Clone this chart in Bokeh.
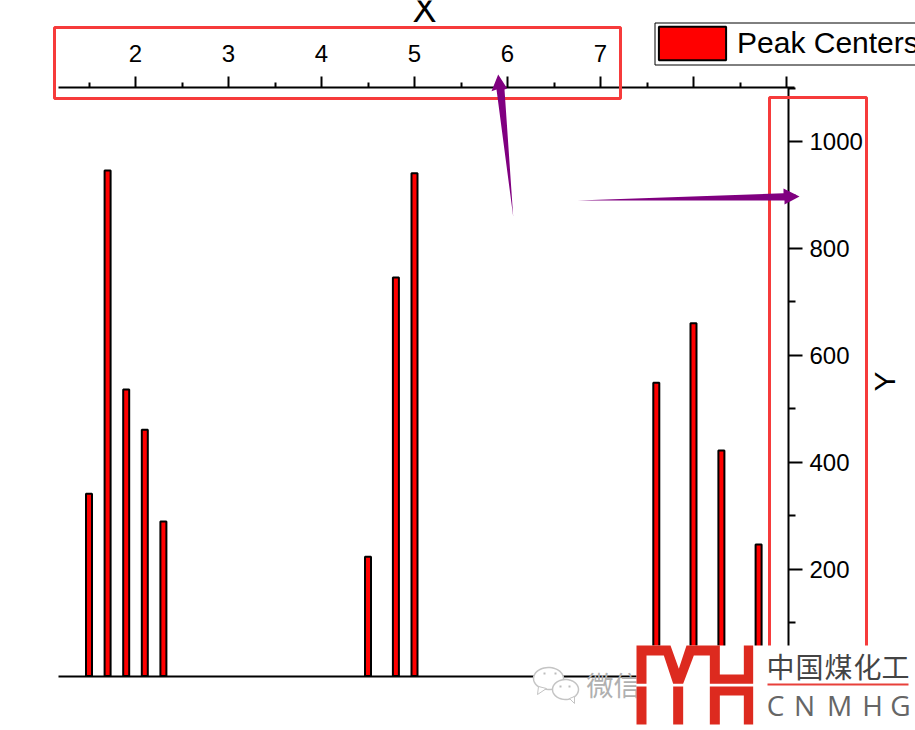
import numpy as np
from bokeh.plotting import figure
from bokeh.models import (LinearAxis, FixedTicker, Range1d, Legend, LegendItem, Label,
                          PolyAnnotation, BoxAnnotation)
from bokeh.embed import file_html
from bokeh.resources import INLINE

peak_x = [1.5, 1.7, 1.9, 2.1, 2.3, 4.5, 4.8, 5.0, 7.6, 8.0, 8.3, 8.7]
peak_y = [341, 946, 536, 461, 289, 223, 746, 941, 549, 660, 422, 246]
series_name = "Peak Centers"
x_ticks = [2, 3, 4, 5, 6, 7, 8, 9]
x_minor = [1.5, 2.5, 3.5, 4.5, 5.5, 6.5, 7.5, 8.5]
y_ticks = [0, 200, 400, 600, 800, 1000]
y_minor = [100, 300, 500, 700, 900, 1100]

FONT = "Liberation Sans"
W, H = 915, 730


def xd(px):
    return 2 + (px - 135) / 93


def yd(py):
    return (675.5 - py) / 0.5343


p = figure(width=W, height=H, output_backend="svg", toolbar_location=None,
           x_axis_location=None, y_axis_location=None,
           x_range=Range1d(xd(0), xd(W)), y_range=Range1d(yd(H), yd(0)),
           min_border=0, margin=(0, 0, 0, 0))
p.grid.visible = False
p.outline_line_color = None

bars = p.vbar(x=peak_x, top=peak_y, bottom=0, width=0.0645, fill_color="#ff0000",
              line_color="black", line_width=2)

top = LinearAxis(fixed_location=yd(87), bounds=(xd(58), xd(794)),
                 ticker=FixedTicker(ticks=x_ticks, minor_ticks=x_minor),
                 major_label_overrides={8: "", 9: ""},
                 major_label_text_font=FONT, major_label_text_font_size="24px", major_label_text_color="black",
                 major_label_standoff=15, axis_line_width=2, axis_line_color="black",
                 major_tick_line_width=2, minor_tick_line_width=2,
                 major_tick_out=11, major_tick_in=0, minor_tick_out=5, minor_tick_in=0)
p.add_layout(top, "above")

right = LinearAxis(fixed_location=xd(788), bounds=(0, yd(87)),
                   ticker=FixedTicker(ticks=y_ticks, minor_ticks=y_minor),
                   major_label_overrides={0: ""},
                   major_label_text_font=FONT, major_label_text_font_size="24px", major_label_text_color="black",
                   major_label_text_baseline="bottom",
                   major_label_standoff=7, axis_line_width=2, axis_line_color="black",
                   major_tick_line_width=2, minor_tick_line_width=2,
                   major_tick_out=14, major_tick_in=0, minor_tick_out=7, minor_tick_in=0)
p.add_layout(right, "right")

bottom = LinearAxis(fixed_location=0, bounds=(xd(58), xd(788)), major_tick_line_color=None,
                    minor_tick_line_color=None, major_label_text_font_size="0px",
                    axis_line_width=2, axis_line_color="black", ticker=FixedTicker(ticks=[]))
p.add_layout(bottom, "below")

legend = Legend(items=[LegendItem(label=series_name, renderers=[bars])],
                location=(650, H - 64), orientation="vertical", margin=0, padding=0,
                glyph_width=84, glyph_height=42, label_standoff=3,
                label_text_font=FONT, label_text_font_size="30px", label_text_color="black",
                border_line_color=None, background_fill_alpha=0,
                spacing=0, label_height=34)
p.add_layout(legend, "center")


def box(l, t, r, b, **kw):
    p.add_layout(BoxAnnotation(left=l, right=r, top=t, bottom=b,
                               left_units="canvas", right_units="canvas",
                               top_units="canvas", bottom_units="canvas", **kw))


def poly(pts, color, **kw):
    xs = [q[0] for q in pts]
    ys = [q[1] for q in pts]
    p.add_layout(PolyAnnotation(xs=xs, ys=ys, xs_units="canvas", ys_units="canvas", fill_color=color,
                                fill_alpha=kw.pop("fill_alpha", 1), line_color=kw.pop("line_color", None),
                                line_alpha=1, line_width=kw.pop("line_width", 1)))


def text(x, y, s, size, color, font=FONT, align="left", baseline="middle", angle=0):
    p.add_layout(Label(x=x, y=y, x_units="canvas", y_units="canvas", text=s, text_font=font,
                       text_font_size=f"{size}px", text_color=color, text_align=align,
                       text_baseline=baseline, angle=angle))


# legend frame
box(654.5, 22.5, 930, 64.5, fill_alpha=0, line_color="black", line_alpha=1, line_width=1)

# axis titles
text(424, 9, "X", 36, "black", align="center")
text(884, 381, "Y", 30, "black", align="center", angle=np.pi / 2)

# red call-out frames
box(54, 27, 620, 98, fill_alpha=0, line_color="#f63b3b", line_alpha=1, line_width=3)
box(769, 97, 866, 660, fill_alpha=0, line_color="#f63b3b", line_alpha=1, line_width=3)

# purple arrows
poly([(497.7, 74), (506.7, 88), (504, 89), (512.7, 216), (496, 89), (491, 90.7)], "#800080")
poly([(577, 200), (783, 192.7), (783, 188), (799, 196), (784, 204), (784, 200)], "#800080")


# WeChat mark
def bubble(cx, cy, rx, ry, tail):
    a = np.linspace(0, 2 * np.pi, 48)
    pts = [(cx + rx * np.cos(t), cy + ry * np.sin(t)) for t in a]
    poly(pts, "white", line_color="#c4c4c4", line_width=1.5)
    poly(tail, "white", line_color="#c4c4c4", line_width=1)


bubble(548, 678, 15, 11, [(538, 686), (537, 694), (546, 688)])
bubble(565, 689, 13, 10, [(569, 698), (574, 703), (574, 696)])
for ex, ey in [(544, 673), (555, 673), (560, 686), (569, 686)]:
    box(ex - 1, ey - 1, ex + 1, ey + 1, fill_color="#bdbdbd", fill_alpha=1, line_color=None)
text(586, 684, "微信", 27, "#b0b0b0", font="Noto Sans CJK SC")

# logo on its white backing
box(636, 645, 915, 730, fill_color="white", fill_alpha=1, line_color=None)


def z(q):
    return (630 + q[0] / 3, 640 + q[1] / 3)


RED = "#dd2a1f"
poly([z(q) for q in [(18, 15), (120, 15), (145, 85), (168, 15), (268, 15), (268, 102), (340, 102), (340, 15),
                     (368, 15), (368, 130), (238, 130), (238, 45), (190, 45), (158, 130), (128, 130),
                     (100, 45), (48, 45), (48, 130), (18, 130)]], RED)
poly([z(q) for q in [(18, 138), (48, 138), (48, 252), (18, 252)]], RED)
poly([z(q) for q in [(128, 138), (158, 138), (158, 252), (128, 252)]], RED)
poly([z(q) for q in [(238, 138), (368, 138), (368, 252), (340, 252), (340, 165), (268, 165), (268, 252),
                     (238, 252)]], RED)
for cx, ch in zip([780, 809, 838, 867, 895], "中国煤化工"):
    text(cx, 665, ch, 28, "#444444", font="Noto Sans CJK SC", align="center")
box(767, 683, 908, 685, fill_color="#e8403a", fill_alpha=1, line_color=None)
for cx, ch in zip([775, 804, 839, 872, 900], "CNMHG"):
    text(cx, 704, ch, 28, "#666666", font="Open Sans", align="center")

open("out.html", "w").write(file_html(p, INLINE))
